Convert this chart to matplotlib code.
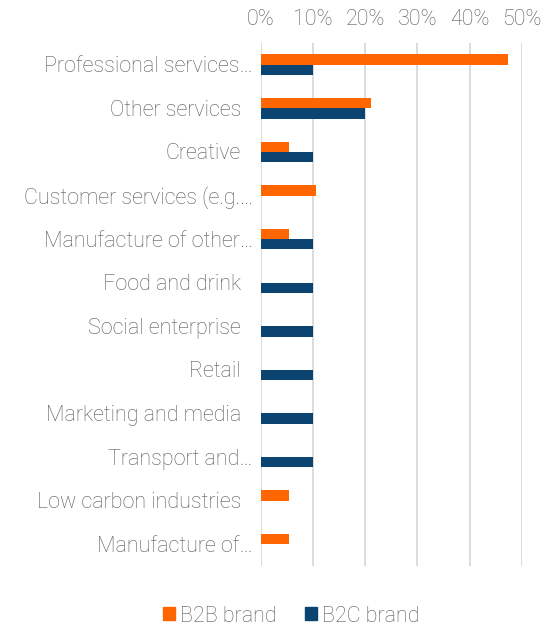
import matplotlib
matplotlib.use("Agg")
import matplotlib.pyplot as plt
from matplotlib.patches import Patch
from matplotlib.ticker import PercentFormatter
import matplotlib.transforms as mtransforms
import numpy as np

# Share of businesses by sector, split by brand type (percent)
categories = [
    "Professional services…",
    "Other services",
    "Creative",
    "Customer services (e.g.…",
    "Manufacture of other…",
    "Food and drink",
    "Social enterprise",
    "Retail",
    "Marketing and media",
    "Transport and…",
    "Low carbon industries",
    "Manufacture of…",
]
b2b = [47.4, 21.1, 5.3, 10.5, 5.3, 0, 0, 0, 0, 0, 5.3, 5.3]
b2c = [10.0, 20.0, 10.0, 0, 10.0, 10.0, 10.0, 10.0, 10.0, 10.0, 0, 0]
xticks = [0, 10, 20, 30, 40, 50]
series_names = ["B2B brand", "B2C brand"]

ORANGE = "#FF6600"
NAVY = "#0B4470"
GRID = "#D9D9D9"
TEXT = "#595959"
FS = 15.5

plt.rcParams["font.family"] = ["Roboto", "DejaVu Sans"]
plt.rcParams["font.weight"] = "light"

fig = plt.figure(figsize=(5.59, 6.25), dpi=100)
ax = fig.add_axes([261 / 559, 1 - 566 / 625, (521.7 - 261) / 559, (566 - 43) / 625])

y = np.arange(len(categories))
h = 0.237
ax.barh(y - h / 2, b2b, height=h, color=ORANGE, zorder=3)
ax.barh(y + h / 2, b2c, height=h, color=NAVY, zorder=3)

ax.set_xlim(0, 50)
ax.set_ylim(len(categories) - 0.5, -0.5)
ax.set_xticks(xticks)
ax.xaxis.set_major_formatter(PercentFormatter(decimals=0))
ax.xaxis.tick_top()
ax.tick_params(axis="x", length=0, pad=9.5, labelsize=FS, labelcolor=TEXT)
ax.grid(axis="x", color=GRID, linewidth=1.3, zorder=0)
ax.set_axisbelow(True)
for s in ax.spines.values():
    s.set_visible(False)

ax.set_yticks(y)
ax.set_yticklabels([])
ax.tick_params(axis="y", length=0)

# category labels: full labels sit further from the axis than truncated ones
for yi, label in zip(y, categories):
    off = -8 if label.endswith("…") else -20
    tr = ax.get_yaxis_transform() + mtransforms.ScaledTranslation(off / 100, -2 / 100, fig.dpi_scale_trans)
    ax.text(0, yi, label, transform=tr, ha="right", va="center",
            fontsize=FS, color=TEXT)

handles = [Patch(color=ORANGE), Patch(color=NAVY)]
fig.legend(handles, series_names, loc="center", bbox_to_anchor=(0.521, 1 - 616 / 625),
           ncol=2, frameon=False, fontsize=FS, labelcolor=TEXT,
           handlelength=0.55, handleheight=0.55, handletextpad=0.25, columnspacing=1.3)

fig.savefig("out.png", dpi=100)
